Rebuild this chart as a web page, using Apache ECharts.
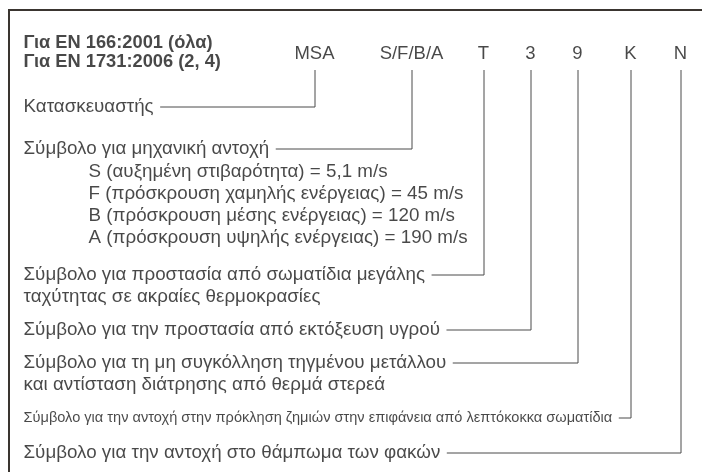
<!DOCTYPE html>
<html>
<head>
<meta charset="utf-8">
<script src="https://cdn.jsdelivr.net/npm/echarts@6/dist/echarts.min.js"></script>
<style>
  html, body { margin: 0; padding: 0; background: #fff; }
  #chart { width: 702px; height: 472px; }
</style>
</head>
<body>
<div id="chart"></div>
<script>
// header and code letters
const headerLines = ['Για EN 166:2001 (όλα)', 'Για EN 1731:2006 (2, 4)'];
const codes = ['MSA', 'S/F/B/A', 'T', '3', '9', 'K', 'N'];

// description for each code (one or two lines)
const descriptions = [
  ['Κατασκευαστής'],
  ['Σύμβολο για μηχανική αντοχή'],
  ['Σύμβολο για προστασία από σωματίδια μεγάλης', 'ταχύτητας σε ακραίες θερμοκρασίες'],
  ['Σύμβολο για την προστασία από εκτόξευση υγρού'],
  ['Σύμβολο για τη μη συγκόλληση τηγμένου μετάλλου', 'και αντίσταση διάτρησης από θερμά στερεά'],
  ['Σύμβολο για την αντοχή στην πρόκληση ζημιών στην επιφάνεια από λεπτόκοκκα σωματίδια'],
  ['Σύμβολο για την αντοχή στο θάμπωμα των φακών']
];
const smallRow = 5; // this one is set smaller so it fits in one line

// sub list under mechanical strength
const strengthClasses = [
  'S (αυξημένη στιβαρότητα) = 5,1 m/s',
  'F (πρόσκρουση χαμηλής ενέργειας) = 45 m/s',
  'B (πρόσκρουση μέσης ενέργειας) = 120 m/s',
  'A (πρόσκρουση υψηλής ενέργειας) = 190 m/s'
];

// layout (pixel space of the 702x472 canvas)
const codeX = [315, 412, 484, 531, 578, 631, 681];
const codeY = 54;
const stemTop = 70;
const rowY = [107, 149, 275, 330, 363, 418, 453];
const lineGap = 22;
const textLeft = 24;
const indentLeft = 89;
const strengthTop = 172;
const headerY = [43, 62];
const smallWidth = 589;

const FONT = '"Liberation Sans", Arial, sans-serif';
const TEXT_COLOR = '#1a1a1a';
const BODY_SIZE = 18.8;

const ctx = document.createElement('canvas').getContext('2d');
const measure = (s, size) => { ctx.font = size + 'px ' + FONT; return ctx.measureText(s).width; };
const smallSize = 16 * smallWidth / measure(descriptions[smallRow][0], 16);

const label = (x, y, text, opts) => ({
  value: [x, y],
  label: Object.assign({
    show: true,
    formatter: text,
    position: [0, 0],
    align: 'left',
    verticalAlign: 'middle',
    color: TEXT_COLOR,
    fontFamily: FONT,
    fontSize: BODY_SIZE
  }, opts || {})
});

const texts = [];
headerLines.forEach((t, i) => texts.push(label(textLeft, headerY[i], t, { fontWeight: 'bold', fontSize: 18.3 })));
codes.forEach((c, i) => texts.push(label(codeX[i], codeY, c, { align: 'center', fontSize: 18.5 })));

const connectors = [];
descriptions.forEach((lines, i) => {
  const size = i === smallRow ? smallSize : BODY_SIZE;
  lines.forEach((t, j) => texts.push(label(textLeft, rowY[i] + j * lineGap, t, { fontSize: size })));
  const start = textLeft + measure(lines[0], size) + 6;
  connectors.push({ coords: [[start, rowY[i]], [codeX[i], rowY[i]], [codeX[i], stemTop]] });
});
strengthClasses.forEach((t, i) => texts.push(label(indentLeft, strengthTop + i * lineGap, t)));

const frame = [{ coords: [[9, 472], [9, 10], [702, 10]] }];

const chart = echarts.init(document.getElementById('chart'), null, { renderer: 'canvas' });
chart.setOption({
  animation: false,
  backgroundColor: '#fff',
  grid: { left: 0, right: 0, top: 0, bottom: 0 },
  xAxis: { type: 'value', min: 0, max: 702, show: false },
  yAxis: { type: 'value', min: 0, max: 472, inverse: true, show: false },
  series: [
    {
      type: 'lines',
      coordinateSystem: 'cartesian2d',
      polyline: true,
      silent: true,
      lineStyle: { color: '#3a3530', width: 2, opacity: 1 },
      data: frame
    },
    {
      type: 'lines',
      coordinateSystem: 'cartesian2d',
      polyline: true,
      silent: true,
      lineStyle: { color: '#4a4a4a', width: 1, opacity: 1 },
      data: connectors
    },
    {
      type: 'scatter',
      symbolSize: 1,
      itemStyle: { color: 'transparent' },
      silent: true,
      data: texts
    }
  ]
});
</script>
</body>
</html>
